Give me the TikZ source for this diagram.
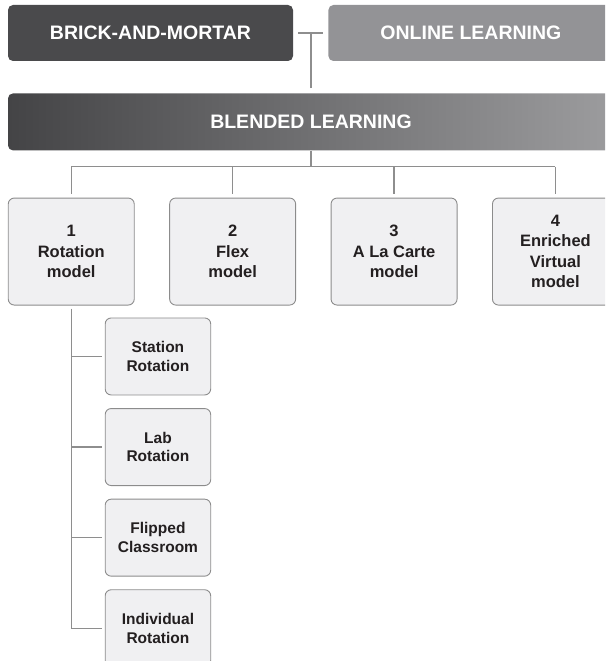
\documentclass[tikz,border=0pt]{standalone}
\usepackage{fontspec}
\setmainfont{Liberation Sans}
\usetikzlibrary{positioning}

\definecolor{brickgray}{HTML}{4A4A4C}
\definecolor{onlinegray}{HTML}{939396}
\definecolor{blendleft}{HTML}{444446}
\definecolor{blendright}{HTML}{9C9C9E}
\definecolor{boxfill}{HTML}{F0F0F2}
\definecolor{boxline}{HTML}{8C8C8C}
\definecolor{linkgray}{HTML}{8E8E8E}
\definecolor{textdark}{HTML}{231F20}

\begin{document}
\begin{tikzpicture}[
		head/.style={rounded corners=5pt, minimum height=56pt, text=white, font=\fontsize{19.5}{23}\selectfont\bfseries},
		model/.style={draw=boxline, line width=0.9pt, fill=boxfill, rounded corners=6pt, minimum width=126pt, minimum height=107pt, align=center, text=textdark, font=\fontsize{16.5}{20.5}\selectfont\bfseries},
		submodel/.style={model, minimum width=105.5pt, minimum height=77pt, font=\fontsize{15.5}{18.5}\selectfont\bfseries},
		link/.style={draw=linkgray, line width=1.2pt},
	]
		\clip (0,0) rectangle (605pt,-661pt);
		\node [head, fill=brickgray, minimum width=285pt] (brick) at (150.5pt,-33pt) {BRICK-AND-MORTAR};
		\node [head, fill=onlinegray, minimum width=285pt, right=35pt of brick] (online) {ONLINE LEARNING};
		\node [head, left color=blendleft, right color=blendright, minimum width=606pt, minimum height=57pt, below=32pt of brick.south west, anchor=north west] (blended) {BLENDED LEARNING};
		
		\node [model, below=47pt of blended.south west, anchor=north west] (m1) {1\\Rotation\\model};
		\node [model, right=34.5pt of m1] (m2) {2\\Flex\\model};
		\node [model, right=34.5pt of m2] (m3) {3\\A La Carte\\model};
		\node [model, right=34.5pt of m3] (m4) {4\\Enriched\\Virtual\\model};
		
		\node [submodel, below right=12pt and 33.5pt of m1.south] (s1) {Station\\Rotation};
		\node [submodel, below=12.7pt of s1] (s2) {Lab\\Rotation};
		\node [submodel, below=12.7pt of s2] (s3) {Flipped\\Classroom};
		\node [submodel, below=12.7pt of s3] (s4) {Individual\\Rotation};
		
		\draw[link, shorten <=5pt, shorten >=5pt] (brick) -- (online);
		\draw[link, shorten <=5pt] (blended.north) -- (blended.north |- brick.east);
		\draw[link] (blended.south) -- ++(0,-16pt) coordinate (bus);
		\draw[link] (bus -| m1.north) -- (bus -| m4.north);
		\foreach \m in {m1,m2,m3,m4}
			\draw[link, shorten >=4pt] (bus -| \m.north) -- (\m.north);
		
		\draw[link, shorten <=3pt] (m1.south) -- (m1.south |- s4.west);
		\foreach \s in {s1,s2,s3,s4}
			\draw[link, shorten >=3pt] (m1.south |- \s.west) -- (\s.west);
	\end{tikzpicture}
\end{document}
